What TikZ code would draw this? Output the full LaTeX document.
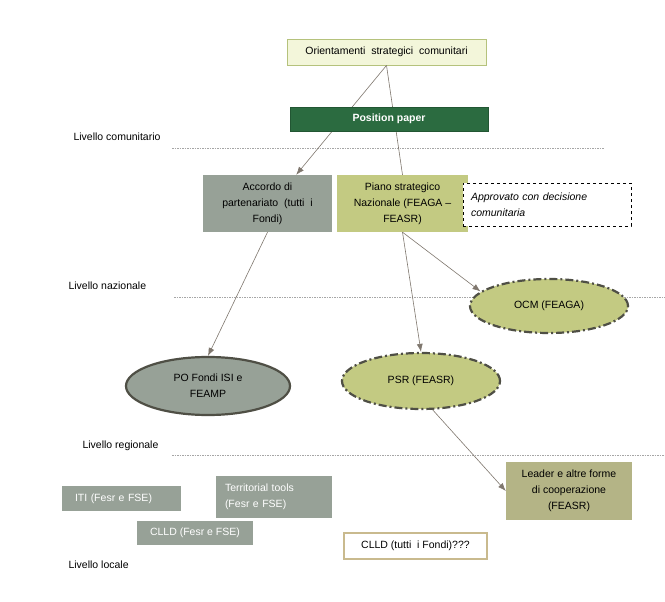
\documentclass[tikz,border=0pt]{standalone}
\usepackage{fontspec}
\setmainfont{Liberation Sans}
\usepackage{tikz}
\usepackage{xcolor}
\usetikzlibrary{arrows.meta,shapes.geometric}

\definecolor{orfill}{HTML}{F3F6DA}
\definecolor{ordraw}{HTML}{B5C27C}
\definecolor{ppgreen}{HTML}{2B6B40}
\definecolor{grgreen}{HTML}{97A197}
\definecolor{olive}{HTML}{C3CA82}
\definecolor{leadfill}{HTML}{B4B486}
\definecolor{tanline}{HTML}{C9BA8E}
\definecolor{rimdark}{HTML}{4F4F45}
\definecolor{arrowgray}{HTML}{7F776E}

\begin{document}
\begin{tikzpicture}[x=1pt,y=-1pt,>={Latex[length=8pt,width=6pt]},
  font=\fontsize{10.5}{16}\selectfont,
  box/.style={rectangle,inner sep=2pt,align=center},
  oval/.style={ellipse,line width=2.2pt,draw=rimdark,align=center},
  dashdot/.style={dash pattern=on 8pt off 3pt on 2pt off 3pt},
  conn/.style={draw=arrowgray,line width=0.6pt},
  level/.style={gray!70,dashed,dash pattern=on 1.5pt off 1pt,line width=0.5pt}]
  \useasboundingbox[fill=white] (0,0) rectangle (665,602);

  % level labels and separators
  \node[anchor=west] (lcom) at (70,137) {Livello comunitario};
  \node[anchor=west] (lnaz) at (65,286) {Livello nazionale};
  \node[anchor=west] (lreg) at (79,446) {Livello regionale};
  \node[anchor=west] (lloc) at (65,565) {Livello locale};
  \draw[level] (172,148) -- (604,148);
  \draw[level] (174,297) -- (665,297);
  \draw[level] (172,455) -- (665,455);

  % community level
  \node[box,fill=orfill,draw=ordraw,line width=0.8pt,minimum width=199pt,minimum height=26pt]
    (or) at (386.5,52) {Orientamenti\ \ strategici\ \ comunitari};

  % national level
  \node[box,fill=grgreen,minimum width=129pt,minimum height=57pt]
    (acc) at (267.5,203.5) {Accordo di\\partenariato\ \ (tutti\ \ i\\Fondi)};
  \node[box,fill=olive,minimum width=131pt,minimum height=57pt]
    (pia) at (402.5,203.5) {Piano strategico\\Nazionale (FEAGA --\\FEASR)};
  \node[box,fill=white,draw=black,dashed,line width=0.6pt,minimum width=168pt,minimum height=43pt,
    text width=152pt,align=left,font=\fontsize{10.5}{16}\selectfont\itshape]
    (app) at (547,204.5) {Approvato con decisione\\comunitaria};
  \node[oval,fill=olive,dashdot,minimum width=158pt,minimum height=54pt]
    (ocm) at (549,306) {OCM (FEAGA)};

  % regional level
  \node[oval,fill=grgreen,minimum width=164pt,minimum height=58pt]
    (po) at (208,386) {PO Fondi ISI e\\FEAMP};
  \node[oval,fill=olive,dashdot,minimum width=158pt,minimum height=56pt]
    (psr) at (421,381) {PSR (FEASR)};

  % local level
  \node[box,fill=leadfill,minimum width=126pt,minimum height=58pt]
    (lead) at (569,491) {Leader e altre forme\\di cooperazione\\(FEASR)};
  \node[box,fill=grgreen,text=white,minimum width=119pt,minimum height=25pt,
    text width=93pt,align=left] (iti) at (121.5,498.5) {ITI (Fesr e FSE)};
  \node[box,fill=grgreen,text=white,minimum width=116pt,minimum height=42pt,
    text width=98pt,align=left] (tt) at (274,497) {Territorial tools\\(Fesr e FSE)};
  \node[box,fill=grgreen,text=white,minimum width=116pt,minimum height=24pt]
    (clf) at (195,533) {CLLD (Fesr e FSE)};
  \node[box,fill=white,draw=tanline,line width=2.5pt,minimum width=143pt,minimum height=26pt]
    (clt) at (415.5,546) {CLLD (tutti\ \ i Fondi)???};

  % connectors
  \draw[conn,->] (or.south) -- (acc.45);
  \draw[conn] (or.south) -- (pia.north);
  \draw[conn,->] (pia.south) -- (psr.north);
  \draw[conn,->] (pia.south) -- (ocm.168);
  \draw[conn,->] (acc.south) -- (po.north);
  \draw[conn,->] (psr.-68) -- (lead.west);

  % position paper on top of the lines
  \node[box,fill=ppgreen,draw=ppgreen!80!black,text=white,font=\fontsize{10.5}{16}\selectfont\bfseries,
    minimum width=198pt,minimum height=24pt] (pp) at (389,119) {Position paper};
\end{tikzpicture}
\end{document}
